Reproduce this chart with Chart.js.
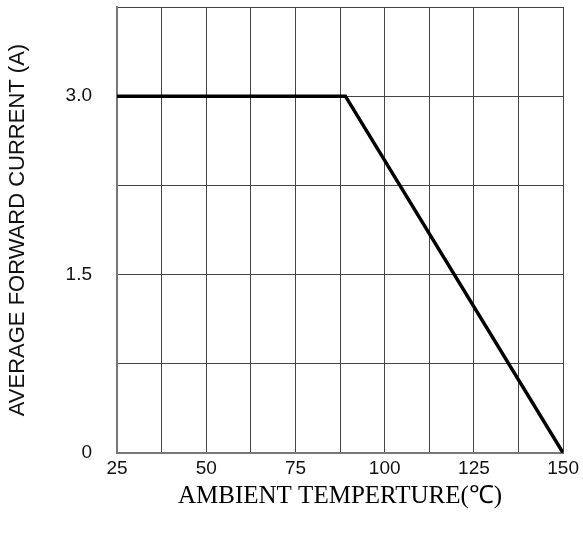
<!DOCTYPE html>
<html>
<head>
<meta charset="utf-8">
<script src="https://cdn.jsdelivr.net/npm/chart.js@4/dist/chart.umd.min.js"></script>
<style>
  html, body { margin: 0; padding: 0; background: #fff; }
  canvas { display: block; }
</style>
</head>
<body>
<canvas id="chart" width="583" height="538"></canvas>
<script>
// derating curve points (temperature, current)
const tempC = [25, 89, 150];
const currentA = [3.0, 3.0, 0];
const xTickLabels = [25, 50, 75, 100, 125, 150];
const yTickLabels = { 0: '0', 1.5: '1.5', 3: '3.0' };

const ctx = document.getElementById('chart').getContext('2d');

new Chart(ctx, {
    type: 'line',
    data: {
        datasets: [{
            data: tempC.map((t, i) => ({ x: t, y: currentA[i] })),
            borderColor: '#000',
            borderWidth: 3.5,
            pointRadius: 0,
            tension: 0,
            fill: false
        }]
    },
    options: {
        responsive: false,
        animation: false,
        layout: { padding: { top: 7, right: 0, left: 0, bottom: 0 } },
        plugins: {
            legend: { display: false },
            tooltip: { enabled: false }
        },
        scales: {
            x: {
                type: 'linear',
                min: 25,
                max: 150,
                ticks: {
                    stepSize: 12.5,
                    autoSkip: false,
                    maxRotation: 0,
                    padding: 4,
                    color: '#111',
                    font: { family: 'Liberation Sans, Arial', size: 19 },
                    callback: (v) => xTickLabels.includes(v) ? String(v) : ''
                },
                grid: { color: '#444', lineWidth: 1, drawTicks: false },
                border: { color: '#777', width: 2 },
                title: {
                    display: true,
                    text: 'AMBIENT TEMPERTURE(℃)',
                    color: '#000',
                    padding: { top: 0, bottom: 27 },
                    font: { family: 'Liberation Serif, Times New Roman', size: 25 }
                },
                afterFit: (scale) => { scale.height = 85; }
            },
            y: {
                min: 0,
                max: 3.75,
                ticks: {
                    stepSize: 0.75,
                    autoSkip: false,
                    padding: 0,
                    color: '#111',
                    font: { family: 'Liberation Sans, Arial', size: 19, lineHeight: 0.7 },
                    callback: (v) => yTickLabels[v] !== undefined ? yTickLabels[v] : ''
                },
                // transparent tick marks just push the labels away from the axis
                grid: { color: '#444', lineWidth: 1, drawTicks: true, tickLength: 25, tickColor: 'rgba(0,0,0,0)' },
                border: { color: '#777', width: 2 },
                title: {
                    display: true,
                    text: 'AVERAGE FORWARD CURRENT (A)',
                    color: '#111',
                    padding: { top: 5, bottom: 0 },
                    font: { family: 'Liberation Sans, Arial', size: 22 }
                },
                afterFit: (scale) => { scale.width = 117; }
            }
        }
    }
});
</script>
</body>
</html>
